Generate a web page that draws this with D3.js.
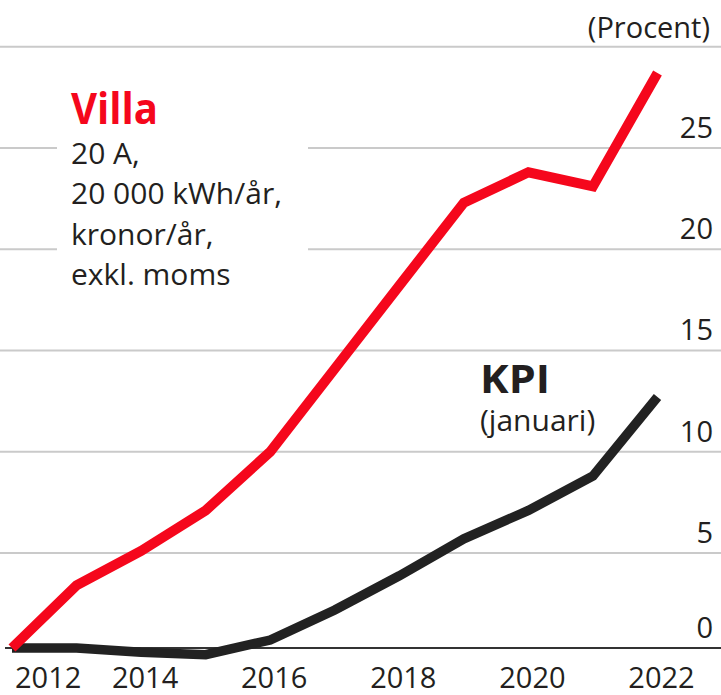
<!DOCTYPE html>
<html><head><meta charset="utf-8">
<script src="https://cdn.jsdelivr.net/npm/d3@7"></script>
<style>
body{margin:0;background:#fff}
svg{display:block}
text{font-family:"Open Sans",sans-serif}
</style>
</head><body>
<svg id="c" width="721" height="695"></svg>
<script>
// ---- data ----
const years = [2012,2013,2014,2015,2016,2017,2018,2019,2020,2021,2022];
const villa = [0, 3.3, 5.1, 7.1, 10.0, 14.1, 18.2, 22.3, 23.8, 23.1, 28.7];
const kpi   = [0, 0.0, -0.22, -0.35, 0.42, 2.0, 3.8, 5.7, 7.1, 8.8, 12.7];
const yTickValues = [0, 5, 10, 15, 20, 25];
const gridValues = [5, 10, 15, 20, 25, 30];
const xTickYears = [2012, 2014, 2016, 2018, 2020, 2022];
const unitLabel = "(Procent)";
const villaTitle = "Villa";
const villaNote = ["20 A,", "20 000 kWh/år,", "kronor/år,", "exkl. moms"];
const kpiTitle = "KPI";
const kpiNote = "(januari)";

// ---- chart ----
const W = 721, H = 695;
const svg = d3.select("#c");
const x = d3.scaleLinear().domain([2012, 2022]).range([12, 657.5]);
const y = d3.scaleLinear().domain([0, 5, 30]).range([648, 553, 46.7]);
const RED = "#f5071c", INK = "#231f20";

// gridlines
svg.append("g").selectAll("line").data(gridValues).join("line")
  .attr("x1", 0).attr("x2", W)
  .attr("y1", d => y(d)).attr("y2", d => y(d))
  .attr("stroke", "#cacaca").attr("stroke-width", 2);

// white box behind the Villa note
svg.append("rect").attr("x", 57).attr("y", 80).attr("width", 251).attr("height", 212).attr("fill", "#fff");

// baseline
svg.append("line").attr("x1", 5).attr("x2", W).attr("y1", y(0)).attr("y2", y(0))
  .attr("stroke", "#333").attr("stroke-width", 2);

// y tick labels
svg.append("g").selectAll("text").data(yTickValues).join("text")
  .attr("x", 713).attr("y", d => y(d) - 10)
  .attr("text-anchor", "end").attr("font-size", 29).attr("fill", INK)
  .text(d => d);

svg.append("text").attr("x", 710).attr("y", 38).attr("text-anchor", "end")
  .attr("font-size", 29).attr("fill", INK).text(unitLabel);

// x tick labels
svg.append("g").selectAll("text").data(xTickYears).join("text")
  .attr("x", d => d === 2012 ? x(d) + 3 : x(d) + 4)
  .attr("y", 688)
  .attr("text-anchor", d => d === 2012 ? "start" : "middle")
  .attr("font-size", 29).attr("fill", INK)
  .text(d => d);

// lines
const line = d3.line().x((d, i) => x(years[i])).y(d => y(d));
svg.append("path").datum(kpi).attr("d", line).attr("fill", "none")
  .attr("stroke", "#222").attr("stroke-width", 9.5)
  .attr("stroke-linejoin", "miter").attr("stroke-linecap", "butt");
svg.append("path").datum(villa).attr("d", line).attr("fill", "none")
  .attr("stroke", RED).attr("stroke-width", 10)
  .attr("stroke-linejoin", "miter").attr("stroke-linecap", "butt");

// Villa annotation
svg.append("text").attr("x", 71).attr("y", 124).attr("font-size", 43).attr("font-weight", 700)
  .attr("fill", RED).attr("textLength", 87).attr("lengthAdjust", "spacingAndGlyphs").text(villaTitle);
svg.append("g").selectAll("text").data(villaNote).join("text")
  .attr("x", 71).attr("y", (d, i) => 163.5 + i * 40.5)
  .attr("font-size", 30).attr("fill", INK).text(d => d);

// KPI annotation
svg.append("text").attr("x", 480).attr("y", 393).attr("font-size", 39).attr("font-weight", 700)
  .attr("fill", INK).attr("textLength", 70).attr("lengthAdjust", "spacingAndGlyphs").text(kpiTitle);
svg.append("text").attr("x", 480).attr("y", 431).attr("font-size", 30).attr("fill", INK).text(kpiNote);
</script>
</body></html>
